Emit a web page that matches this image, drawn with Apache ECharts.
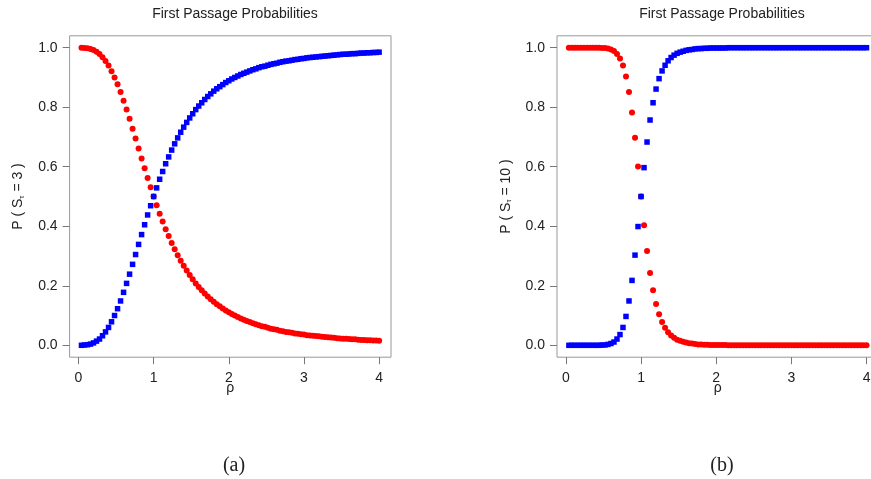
<!DOCTYPE html>
<html>
<head>
<meta charset="utf-8">
<script src="https://cdn.jsdelivr.net/npm/echarts@6/dist/echarts.min.js"></script>
<style>
html,body{margin:0;padding:0;background:#fff;}
#chart{width:871px;height:479px;}
</style>
</head>
<body>
<div id="chart"></div>
<script>
// rho values (x)
const rho = [0.04,0.08,0.12,0.16,0.20,0.24,0.28,0.32,0.36,0.40,
0.44,0.48,0.52,0.56,0.60,0.64,0.68,0.72,0.76,0.80,
0.84,0.88,0.92,0.96,1.00,1.04,1.08,1.12,1.16,1.20,
1.24,1.28,1.32,1.36,1.40,1.44,1.48,1.52,1.56,1.60,
1.64,1.68,1.72,1.76,1.80,1.84,1.88,1.92,1.96,2.00,
2.04,2.08,2.12,2.16,2.20,2.24,2.28,2.32,2.36,2.40,
2.44,2.48,2.52,2.56,2.60,2.64,2.68,2.72,2.76,2.80,
2.84,2.88,2.92,2.96,3.00,3.04,3.08,3.12,3.16,3.20,
3.24,3.28,3.32,3.36,3.40,3.44,3.48,3.52,3.56,3.60,
3.64,3.68,3.72,3.76,3.80,3.84,3.88,3.92,3.96,4.00];

// Panel (a): N = 3
const blueA = [0.000,0.001,0.002,0.004,0.008,0.014,0.021,0.032,0.045,0.060,
0.079,0.100,0.123,0.149,0.178,0.208,0.239,0.272,0.305,0.339,
0.372,0.405,0.438,0.469,0.500,0.529,0.558,0.584,0.610,0.633,
0.656,0.677,0.697,0.716,0.733,0.749,0.764,0.778,0.792,0.804,
0.815,0.826,0.836,0.845,0.854,0.862,0.869,0.876,0.883,0.889,
0.895,0.900,0.905,0.910,0.914,0.918,0.922,0.926,0.929,0.933,
0.936,0.938,0.941,0.944,0.946,0.948,0.951,0.953,0.955,0.956,
0.958,0.960,0.961,0.963,0.964,0.966,0.967,0.968,0.969,0.970,
0.971,0.972,0.973,0.974,0.975,0.976,0.977,0.978,0.978,0.979,
0.980,0.980,0.981,0.982,0.982,0.983,0.983,0.984,0.984,0.985];
const redA = [1.000,0.999,0.998,0.996,0.992,0.986,0.979,0.968,0.955,0.940,
0.921,0.900,0.877,0.851,0.822,0.792,0.761,0.728,0.695,0.661,
0.628,0.595,0.562,0.531,0.500,0.471,0.442,0.416,0.390,0.367,
0.344,0.323,0.303,0.284,0.267,0.251,0.236,0.222,0.208,0.196,
0.185,0.174,0.164,0.155,0.146,0.138,0.131,0.124,0.117,0.111,
0.105,0.100,0.095,0.090,0.086,0.082,0.078,0.074,0.071,0.067,
0.064,0.062,0.059,0.056,0.054,0.052,0.049,0.047,0.045,0.044,
0.042,0.040,0.039,0.037,0.036,0.034,0.033,0.032,0.031,0.030,
0.029,0.028,0.027,0.026,0.025,0.024,0.023,0.022,0.022,0.021,
0.020,0.020,0.019,0.018,0.018,0.017,0.017,0.016,0.016,0.015];

// Panel (b): N = 10
const blueB = [0.000,0.000,0.000,0.000,0.000,0.000,0.000,0.000,0.000,0.000,
0.000,0.001,0.001,0.003,0.006,0.011,0.021,0.036,0.060,0.097,
0.149,0.218,0.303,0.399,0.500,0.597,0.683,0.757,0.815,0.861,
0.896,0.922,0.941,0.956,0.967,0.975,0.981,0.985,0.988,0.991,
0.993,0.994,0.996,0.997,0.997,0.998,0.998,0.999,0.999,0.999,
0.999,0.999,0.999,1.000,1.000,1.000,1.000,1.000,1.000,1.000,
1.000,1.000,1.000,1.000,1.000,1.000,1.000,1.000,1.000,1.000,
1.000,1.000,1.000,1.000,1.000,1.000,1.000,1.000,1.000,1.000,
1.000,1.000,1.000,1.000,1.000,1.000,1.000,1.000,1.000,1.000,
1.000,1.000,1.000,1.000,1.000,1.000,1.000,1.000,1.000,1.000];
const redB = [1.000,1.000,1.000,1.000,1.000,1.000,1.000,1.000,1.000,1.000,
1.000,0.999,0.999,0.997,0.994,0.989,0.979,0.964,0.940,0.903,
0.851,0.782,0.697,0.601,0.500,0.403,0.317,0.243,0.185,0.139,
0.104,0.078,0.059,0.044,0.033,0.025,0.019,0.015,0.012,0.009,
0.007,0.006,0.004,0.003,0.003,0.002,0.002,0.001,0.001,0.001,
0.001,0.001,0.001,0.000,0.000,0.000,0.000,0.000,0.000,0.000,
0.000,0.000,0.000,0.000,0.000,0.000,0.000,0.000,0.000,0.000,
0.000,0.000,0.000,0.000,0.000,0.000,0.000,0.000,0.000,0.000,
0.000,0.000,0.000,0.000,0.000,0.000,0.000,0.000,0.000,0.000,
0.000,0.000,0.000,0.000,0.000,0.000,0.000,0.000,0.000,0.000];

const xTicks = [0, 1, 2, 3, 4];
const yTicks = [0, 0.2, 0.4, 0.6, 0.8, 1.0];
const titles = ['First Passage Probabilities', 'First Passage Probabilities'];
const captions = ['(a)', '(b)'];
const yNames = ['P ( S{sub|τ} = 3 )', 'P ( S{sub|τ} = 10 )'];

const zip = (xs, ys) => xs.map((x, i) => [x, ys[i]]);

const FONT = 'Liberation Sans';
const TXT = '#222';
const BOX = '#999';
const TICK = '#777';

function xAxisFor(g) {
  return {
    type: 'value', gridIndex: g, min: -0.118, max: 4.158,
    splitLine: { show: false },
    axisLine: { show: false, onZero: false },
    axisTick: { show: true, length: 7, customValues: xTicks, lineStyle: { color: TICK, width: 1 } },
    axisLabel: { customValues: xTicks, color: TXT, fontFamily: FONT, fontSize: 14, margin: 14,
      formatter: v => String(Math.round(v)) },
    name: 'ρ', nameLocation: 'middle', nameGap: 24, nameMoveOverlap: false,
    nameTextStyle: { color: TXT, fontFamily: FONT, fontSize: 14 }
  };
}
function yAxisFor(g) {
  return {
    type: 'value', gridIndex: g, min: -0.04, max: 1.04,
    splitLine: { show: false },
    axisLine: { show: false, onZero: false },
    axisTick: { show: true, length: 7, customValues: yTicks, lineStyle: { color: TICK, width: 1 } },
    axisLabel: { customValues: yTicks, color: TXT, fontFamily: FONT, fontSize: 14, margin: 12,
      formatter: v => v.toFixed(1) },
    name: yNames[g], nameLocation: 'middle', nameRotate: 90, nameGap: 44, nameMoveOverlap: false,
    nameTextStyle: { color: TXT, fontFamily: FONT, fontSize: 14,
      rich: { sub: { fontSize: 8, fontFamily: FONT, color: TXT, verticalAlign: 'bottom', padding: [6, 0, 0, 0] } } }
  };
}

const chart = echarts.init(document.getElementById('chart'), null, { renderer: 'canvas' });
chart.setOption({
  animation: false,
  backgroundColor: '#fff',
  title: [
    { text: titles[0], left: 230, top: 2, textAlign: 'center', textStyle: { fontFamily: FONT, fontSize: 14, fontWeight: 'normal', color: TXT } },
    { text: titles[1], left: 717, top: 2, textAlign: 'center', textStyle: { fontFamily: FONT, fontSize: 14, fontWeight: 'normal', color: TXT } },
    { text: captions[0], left: 229, top: 451, textAlign: 'center', textStyle: { fontFamily: 'Liberation Serif', fontSize: 20, fontWeight: 'normal', color: TXT } },
    { text: captions[1], left: 717, top: 451, textAlign: 'center', textStyle: { fontFamily: 'Liberation Serif', fontSize: 20, fontWeight: 'normal', color: TXT } }
  ],
  grid: [
    { left: 69.6, top: 35.8, width: 321.4, height: 321.4, outerBoundsMode: 'none', containLabel: false, show: true, borderColor: BOX, borderWidth: 1, backgroundColor: 'transparent' },
    { left: 557, top: 35.8, width: 321.4, height: 321.4, outerBoundsMode: 'none', containLabel: false, show: true, borderColor: BOX, borderWidth: 1, backgroundColor: 'transparent' }
  ],
  xAxis: [xAxisFor(0), xAxisFor(1)],
  yAxis: [yAxisFor(0), yAxisFor(1)],
  series: [
    { type: 'scatter', xAxisIndex: 0, yAxisIndex: 0, data: zip(rho, redA), symbol: 'circle', symbolSize: 6, itemStyle: { color: '#ff0000', opacity: 1 } },
    { type: 'scatter', xAxisIndex: 0, yAxisIndex: 0, data: zip(rho, blueA), symbol: 'rect', symbolSize: 5.5, itemStyle: { color: '#0000ff', opacity: 1 } },
    { type: 'scatter', xAxisIndex: 1, yAxisIndex: 1, data: zip(rho, redB), symbol: 'circle', symbolSize: 6, itemStyle: { color: '#ff0000', opacity: 1 } },
    { type: 'scatter', xAxisIndex: 1, yAxisIndex: 1, data: zip(rho, blueB), symbol: 'rect', symbolSize: 5.5, itemStyle: { color: '#0000ff', opacity: 1 } }
  ]
});
</script>
</body>
</html>
